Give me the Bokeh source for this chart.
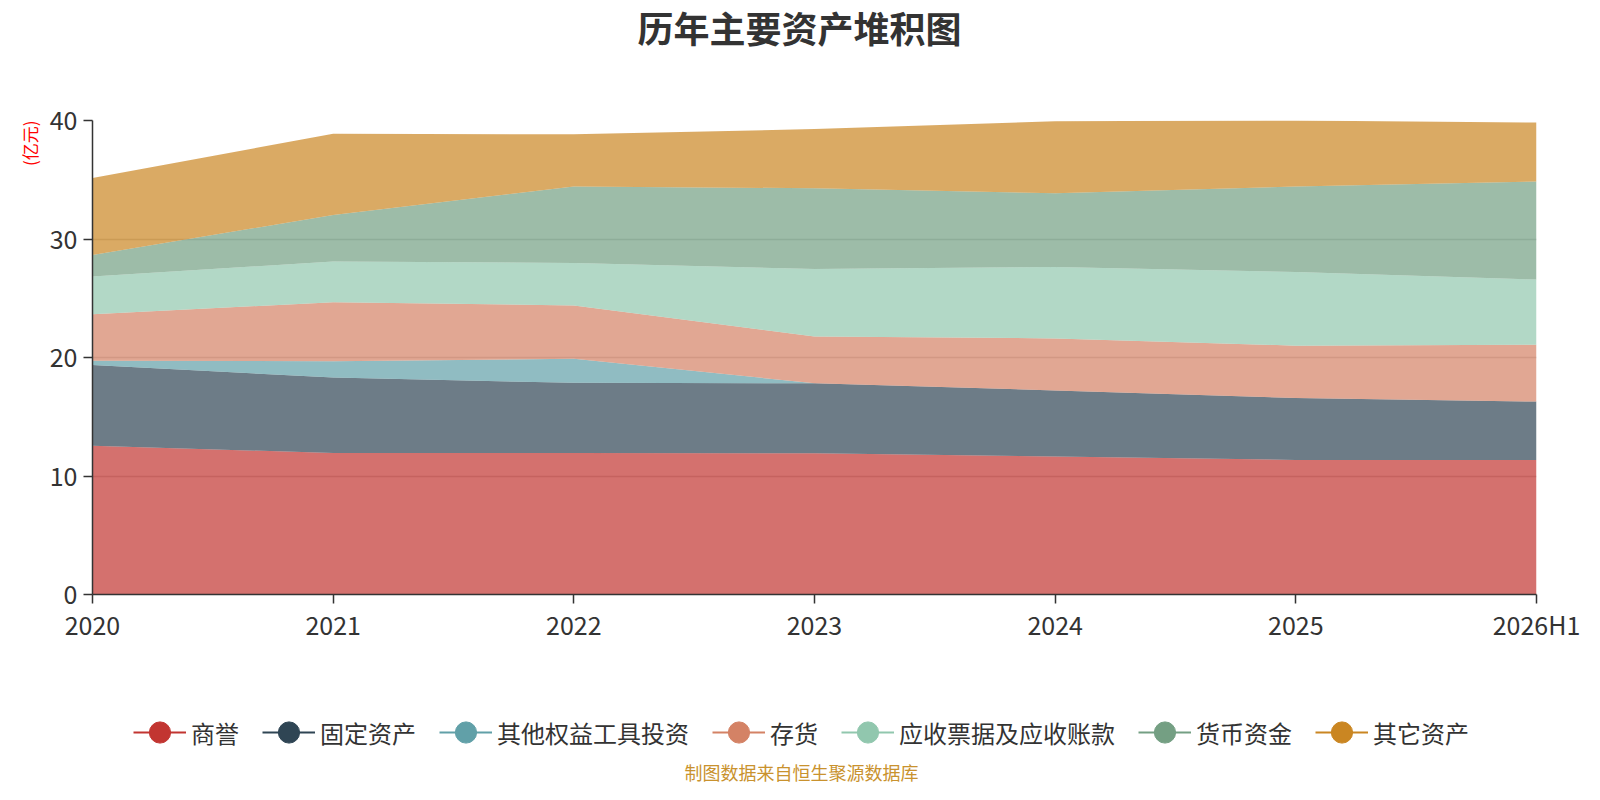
from bokeh.plotting import figure
from bokeh.models import ColumnDataSource, FixedTicker, Range1d, Label, Legend, LegendItem, Title
from bokeh.layouts import column
from bokeh.embed import file_html
from bokeh.resources import INLINE

categories = ["2020", "2021", "2022", "2023", "2024", "2025", "2026H1"]
series_names = ["商誉", "固定资产", "其他权益工具投资", "存货", "应收票据及应收账款", "货币资金", "其它资产"]
goodwill    = [12.56, 11.94, 11.94, 11.92, 11.64, 11.36, 11.36]
fixed       = [6.80, 6.37, 5.92, 5.91, 5.58, 5.22, 4.92]
other_eq    = [0.36, 1.38, 2.03, 0.00, 0.00, 0.00, 0.00]
inventory   = [3.92, 4.98, 4.50, 3.95, 4.39, 4.42, 4.80]
receivable  = [3.19, 3.44, 3.58, 5.69, 6.03, 6.22, 5.50]
cash        = [1.81, 3.92, 6.47, 6.81, 6.22, 7.20, 8.28]
other       = [6.50, 6.86, 4.39, 5.00, 6.08, 5.58, 4.97]
y_ticks = [0, 10, 20, 30, 40]

colors = ["#c23531", "#2f4554", "#61a0a8", "#d48265", "#91c7ae", "#749f83", "#ca8622"]
series = [goodwill, fixed, other_eq, inventory, receivable, cash, other]
FONT = "Noto Sans CJK SC"

W = 1584
H0, H1, H2 = 60, 584, 140
L, FR = 92, 1536           # frame left / right
PT, PB = 60, 44            # main plot top / bottom borders


def strip(height):
    f = figure(width=W, height=height, output_backend="svg", toolbar_location=None,
               x_range=Range1d(0, 1), y_range=Range1d(0, 1),
               min_border_left=0, min_border_right=0, min_border_top=0, min_border_bottom=0)
    f.outline_line_color = None
    f.axis.visible = False
    f.grid.visible = False
    return f


# top strip: title
top = strip(H0)
top.add_layout(Label(x=799 - L, y=H0 - 26, x_units="screen", y_units="screen", text="历年主要资产堆积图",
                     text_font=FONT, text_font_size="36px", text_font_style="bold", text_color="#333333",
                     text_align="center", text_baseline="middle"))

# main chart
p = figure(width=W, height=H1, output_backend="svg", toolbar_location=None,
           x_range=Range1d(0, len(categories) - 1), y_range=Range1d(0, 40),
           min_border_left=L, min_border_right=W - FR, min_border_top=PT, min_border_bottom=PB)
p.outline_line_color = None

xs = list(range(len(categories)))
data = {"x": xs}
cum = [0.0] * len(xs)
for i, s in enumerate(series):
    data[f"b{i}"] = list(cum)
    cum = [c + v for c, v in zip(cum, s)]
    data[f"t{i}"] = list(cum)
src = ColumnDataSource(data)

for i in range(len(series)):
    p.varea(x="x", y1=f"b{i}", y2=f"t{i}", source=src, fill_color=colors[i], fill_alpha=0.7)

p.xaxis.ticker = FixedTicker(ticks=xs)
p.xaxis.major_label_overrides = {i: c for i, c in enumerate(categories)}
p.yaxis.ticker = FixedTicker(ticks=y_ticks)
for ax in (p.xaxis[0], p.yaxis[0]):
    ax.axis_line_color = "#333333"
    ax.axis_line_width = 1.5
    ax.major_tick_line_color = "#333333"
    ax.major_tick_line_width = 1.5
    ax.major_tick_out = 9
    ax.major_tick_in = 0
    ax.minor_tick_line_color = None
    ax.major_label_text_font_size = "25px"
    ax.major_label_text_color = "#333333"
    ax.major_label_text_font = FONT
p.yaxis.major_label_standoff = 6
p.xaxis.major_label_standoff = 2

p.xgrid.grid_line_color = None
p.ygrid.ticker = FixedTicker(ticks=y_ticks)
p.ygrid.grid_line_color = "#cccccc"
p.ygrid.grid_line_width = 1.5

p.add_layout(Title(text="(亿元)", align="right", text_font=FONT, text_font_size="17px",
                   text_font_style="normal", text_color="#ff0000", standoff=9), "left")

# bottom strip: legend and source note
q = strip(H2)
items = []
for i, name in enumerate(series_names):
    ln = q.line(x=[-5, -4], y=[-5, -4], line_color=colors[i], line_width=2)
    sc = q.scatter(x=[-5], y=[-5], marker="circle", fill_color=colors[i], line_color=colors[i])
    items.append(LegendItem(label=name, renderers=[ln, sc]))
legend = Legend(items=items, orientation="horizontal", location=(133 - L, 23),
                glyph_width=53, glyph_height=58, label_height=58, label_standoff=5, spacing=23,
                label_text_font_size="24px", label_text_font=FONT, label_text_color="#333333",
                border_line_color=None, background_fill_alpha=0, padding=0, margin=0)
q.add_layout(legend, "center")

q.add_layout(Label(x=801 - L, y=13, x_units="screen", y_units="screen", text="制图数据来自恒生聚源数据库",
                   text_font=FONT, text_font_size="18px", text_color="#c9922e",
                   text_align="center", text_baseline="middle"))

layout = column(top, p, q, spacing=0)
open("out.html", "w").write(file_html(layout, INLINE))
